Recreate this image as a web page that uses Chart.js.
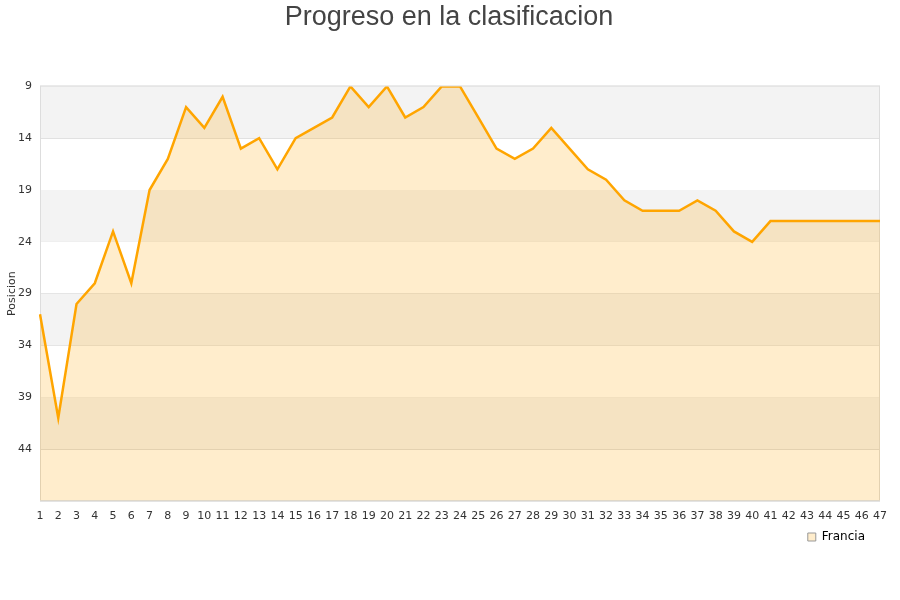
<!DOCTYPE html>
<html>
<head>
<meta charset="utf-8">
<script src="https://cdn.jsdelivr.net/npm/chart.js@4"></script>
<style>
  html, body { margin: 0; padding: 0; background: #fff; }
  #wrap { width: 900px; height: 600px; }
</style>
</head>
<body>
<div id="wrap"><canvas id="posChart" width="900" height="600"></canvas></div>
<script>
const jornadas = [];
for (let j = 1; j <= 47; j++) jornadas.push(String(j));

const posicionFrancia = [
    31, 41, 30, 28, 23, 28, 19, 16, 11, 13,
    10, 15, 14, 17, 14, 13, 12, 9, 11, 9,
    12, 11, 9, 9, 12, 15, 16, 15, 13, 15,
    17, 18, 20, 21, 21, 21, 20, 21, 23, 24,
    22, 22, 22, 22, 22, 22, 22,
];

const posMin = 9;
const posMax = 49;
const posStep = 5;

// bandas alternas gris / blanco + borde del area
const bandsPlugin = {
    id: "bands",
    beforeDraw(chart) {
        // el eje x se ha encogido en afterFit; se amplia el recorte de etiquetas
        chart.scales.x.bottom = chart.scales.x.top + 30;
    },
    beforeDatasetsDraw(chart) {
        const { ctx, chartArea, scales } = chart;
        const y = scales.y;
        ctx.save();
        let i = 0;
        for (let v = posMin; v < posMax; v += posStep, i++) {
            if (i % 2 === 0) {
                const top = y.getPixelForValue(v);
                const bot = y.getPixelForValue(v + posStep);
                ctx.fillStyle = "#f3f3f3";
                ctx.fillRect(chartArea.left, top, chartArea.right - chartArea.left, bot - top);
            }
        }
        ctx.strokeStyle = "#dddddd";
        ctx.lineWidth = 1;
        ctx.strokeRect(chartArea.left + 0.5, chartArea.top - 0.5,
            chartArea.right - chartArea.left - 1, chartArea.bottom - chartArea.top + 1);
        ctx.restore();
    },
};

const font = "'DejaVu Sans', sans-serif";

new Chart(document.getElementById("posChart").getContext("2d"), {
    type: "line",
    data: {
        labels: jornadas,
        datasets: [
            {
                label: "Francia",
                data: posicionFrancia,
                borderColor: "#ffa500",
                backgroundColor: "rgba(255, 165, 0, 0.2)",
                borderWidth: 2.5,
                pointRadius: 0,
                tension: 0,
                fill: "start",
            },
        ],
    },
    options: {
        responsive: false,
        animation: false,
        layout: { padding: { left: 18, right: 20, top: 0, bottom: 47 } },
        plugins: {
            title: {
                display: true,
                text: "Progreso en la clasificacion",
                color: "#444444",
                font: { family: "'Liberation Sans', Arial, sans-serif", size: 27, weight: "normal" },
                padding: { top: 1, bottom: 53 },
            },
            legend: {
                position: "bottom",
                align: "end",
                labels: {
                    boxWidth: 8,
                    boxHeight: 8,
                    padding: 15,
                    color: "#333333",
                    font: { family: font, size: 12 },
                    generateLabels(chart) {
                        return [{
                            text: "Francia",
                            fillStyle: "#ffedcc",
                            strokeStyle: "#999999",
                            lineWidth: 1,
                            datasetIndex: 0,
                        }];
                    },
                },
            },
            tooltip: { enabled: false },
        },
        scales: {
            x: {
                offset: false,
                afterFit(scale) { scale.height -= 8; },
                grid: { display: false },
                border: { display: false },
                ticks: {
                    autoSkip: false,
                    maxRotation: 0,
                    color: "#333333",
                    font: { family: font, size: 11 },
                    padding: 1,
                },
            },
            y: {
                reverse: true,
                min: posMin,
                max: posMax,
                afterFit(scale) { scale.width = 22; },
                grid: { color: "#dddddd", drawTicks: false },
                border: { display: false },
                ticks: {
                    stepSize: posStep,
                    color: "#333333",
                    font: { family: font, size: 11 },
                    padding: 8,
                    callback: (v) => (v === posMax ? "" : v),
                },
                title: {
                    display: true,
                    text: "Posicion",
                    color: "#333333",
                    font: { family: font, size: 11 },
                    padding: { top: -12, bottom: 0 },
                },
            },
        },
    },
    plugins: [bandsPlugin],
});
</script>
</body>
</html>
